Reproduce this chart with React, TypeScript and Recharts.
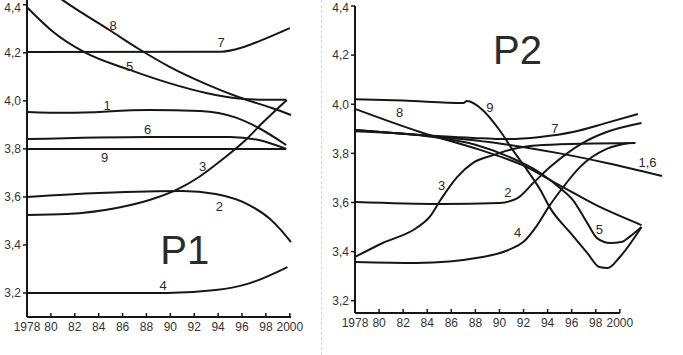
import React from 'react';
import { LineChart, Line, XAxis, YAxis, ReferenceDot, ReferenceLine } from 'recharts';

type Pt = [number, number];

// axis ticks
const yearTicks = [1978, 1980, 1982, 1984, 1986, 1988, 1990, 1992, 1994, 1996, 1998, 2000];
const valueTicks = [3.2, 3.4, 3.6, 3.8, 4.0, 4.2, 4.4];

// P1 series, [year, value]
const p1s1: Pt[] = [[1978, 3.954], [1981.3, 3.95], [1988.2, 3.962], [1992.5, 3.958], [1995.5, 3.93], [1997.4, 3.887], [1999.7, 3.816]];
const p1s2: Pt[] = [[1978, 3.6], [1984, 3.616], [1988, 3.623], [1991, 3.625], [1993.8, 3.612], [1996.6, 3.566], [1998.3, 3.51], [1999.3, 3.46], [2000.1, 3.412]];
const p1s3: Pt[] = [[1978, 3.525], [1981.3, 3.529], [1985.5, 3.554], [1988.25, 3.587], [1990.5, 3.629], [1992.4, 3.683], [1994.3, 3.754], [1996.3, 3.837], [1997.7, 3.908], [1999.75, 4.004]];
const p1s4: Pt[] = [[1978, 3.2], [1989.7, 3.2], [1993.8, 3.212], [1996.6, 3.24], [1999.8, 3.308]];
const p1s5: Pt[] = [[1978, 4.39], [1980.2, 4.287], [1982.8, 4.203], [1986.6, 4.129], [1989.9, 4.074], [1993, 4.033], [1995.75, 4.01], [1997.5, 4.005], [1999.7, 4.005]];
const p1s6: Pt[] = [[1978, 3.841], [1988.2, 3.85], [1995, 3.85], [1997.4, 3.837], [1999.7, 3.8]];
const p1s7: Pt[] = [[1978, 4.203], [1994.3, 4.205], [1996, 4.222], [1997.5, 4.25], [2000, 4.303]];
const p1s8: Pt[] = [[1978, 4.53], [1981.2, 4.412], [1984.9, 4.295], [1987.4, 4.215], [1989.9, 4.143], [1993, 4.07], [1995.75, 4.015], [1998.5, 3.97], [2000.1, 3.941]];
const p1s9: Pt[] = [[1978, 3.8], [1999.7, 3.8]];

// P2 series
const p2s16: Pt[] = [[1978, 3.895], [1985, 3.867], [1990, 3.84], [1993.4, 3.814], [1995, 3.8], [1998.9, 3.761], [2003.5, 3.708]];
const p2s2: Pt[] = [[1978, 3.602], [1985.1, 3.594], [1990, 3.598], [1991.5, 3.618], [1992.8, 3.679], [1994.2, 3.744], [1996.9, 3.842], [1998.9, 3.887], [2001.8, 3.924]];
const p2s3: Pt[] = [[1978, 3.378], [1980.3, 3.435], [1983.1, 3.496], [1984.2, 3.541], [1985.1, 3.61], [1986.5, 3.704], [1987.8, 3.761], [1989.5, 3.793], [1991.5, 3.822], [1993.6, 3.834], [2001.3, 3.842]];
const p2s4: Pt[] = [[1978, 3.358], [1983.1, 3.354], [1988.6, 3.378], [1990.9, 3.41], [1992, 3.44], [1993.1, 3.505], [1994.2, 3.59], [1995.3, 3.663], [1996.7, 3.745], [1998.9, 3.818], [2000.8, 3.842]];
const p2s5: Pt[] = [[1978, 3.89], [1984, 3.87], [1988, 3.835], [1990.6, 3.79], [1993.4, 3.72], [1995, 3.66], [1996.1, 3.61], [1997.3, 3.516], [1998.1, 3.455], [1999.2, 3.435], [2000.2, 3.44], [2000.8, 3.46], [2001.8, 3.5]];
const p2s7: Pt[] = [[1978, 3.895], [1982, 3.88], [1987.8, 3.863], [1990.6, 3.858], [1993.4, 3.867], [1996.1, 3.887], [1998.9, 3.924], [2001.5, 3.96]];
const p2s8: Pt[] = [[1978, 3.981], [1983.4, 3.887], [1988.4, 3.814], [1992, 3.75], [1995, 3.67], [1998, 3.59], [2001.8, 3.508]];
const p2s9: Pt[] = [[1978, 4.02], [1982, 4.015], [1987, 4.005], [1987.3, 4.013], [1988.6, 3.977], [1990, 3.895], [1991.1, 3.814], [1992.3, 3.732], [1993.4, 3.651], [1994.2, 3.578], [1995.9, 3.476], [1997.3, 3.394], [1998.3, 3.337], [1999, 3.333], [2000, 3.378], [2001.8, 3.5]];

// curve labels, [text, year, value]
const p1Labels: [string, number, number][] = [
  ['8', 1985.2, 4.315], ['7', 1994.25, 4.241], ['5', 1986.6, 4.145], ['1', 1984.7, 3.979], ['6', 1988.1, 3.879],
  ['9', 1984.5, 3.766], ['3', 1992.7, 3.725], ['2', 1994.1, 3.562], ['4', 1989.4, 3.233],
];
const p2Labels: [string, number, number][] = [
  ['8', 1981.7, 3.968], ['9', 1989.2, 3.985], ['7', 1994.6, 3.903], ['1,6', 2002.3, 3.761], ['3', 1985.2, 3.671],
  ['2', 1990.7, 3.639], ['4', 1991.5, 3.476], ['5', 1998.3, 3.488],
];

const ink = '#161616';
const font = '"Liberation Sans", Arial, sans-serif';

const toPts = (a: Pt[]) => a.map(([year, v]) => ({ year, v }));
const fmtYear = (y: number) => (y === 1978 || y === 2000 ? String(y) : String(y).slice(2));
const fmtVal = (v: number) => v.toFixed(1).replace('.', ',');

const textShape = (text: string, size: number) => (props: any) => (
  <text x={props.cx} y={props.cy} textAnchor="middle" dominantBaseline="central" fontSize={size} fill="#2b2b2b" fontFamily={font}>
    {text}
  </text>
);

const series = (list: Pt[][]) =>
  list.map((s, i) => (
    <Line key={i} data={toPts(s)} dataKey="v" type="monotone" stroke={ink} strokeWidth={2} dot={false} isAnimationActive={false} />
  ));

const tickStyle = { fill: '#333', fontSize: 12, fontFamily: font };

const App: React.FC = () => {
  return (
    <div style={{ position: 'absolute', left: 0, top: 0, width: 683, height: 355, background: '#fff' }}>
      <div style={{ position: 'absolute', left: 0, top: 0 }}>
        <LineChart width={320} height={355} margin={{ top: 0, right: 29, bottom: 13, left: 0 }}>
          <XAxis dataKey="year" type="number" domain={[1978, 2000]} ticks={yearTicks} interval={0} tickFormatter={fmtYear}
            height={25} tickSize={-4} tickMargin={9} tick={tickStyle}
            axisLine={{ stroke: ink, strokeWidth: 2 }} tickLine={{ stroke: ink, strokeWidth: 1.5 }} />
          <YAxis type="number" domain={[3.1, 4.42]} ticks={valueTicks} allowDataOverflow tickFormatter={fmtVal}
            width={27} tickSize={4} tickMargin={2} tick={tickStyle}
            axisLine={{ stroke: ink, strokeWidth: 2 }} tickLine={{ stroke: ink, strokeWidth: 1.5 }} />
          {series([p1s1, p1s2, p1s3, p1s4, p1s5, p1s6, p1s7, p1s8, p1s9])}
          {p1Labels.map(([t, x, y]) => (
            <ReferenceDot key={t} x={x} y={y} r={4} shape={textShape(t, 13)} />
          ))}
          <ReferenceDot x={1991.2} y={3.379} r={4} shape={textShape('P1', 40)} />
        </LineChart>
      </div>
      <div style={{ position: 'absolute', left: 321, top: 0, height: 355, borderLeft: '1px dashed #d4d4d4' }} />
      <div style={{ position: 'absolute', left: 320, top: 0 }}>
        <LineChart width={363} height={355} margin={{ top: 6, right: 15, bottom: 17, left: 0 }}>
          <XAxis dataKey="year" type="number" domain={[1978, 2004]} ticks={yearTicks} interval={0} tickFormatter={fmtYear}
            height={25} tickSize={-4} tickMargin={9} tick={tickStyle}
            axisLine={false} tickLine={{ stroke: ink, strokeWidth: 1.5 }} />
          <YAxis type="number" domain={[3.15, 4.4]} ticks={valueTicks} allowDataOverflow tickFormatter={fmtVal}
            width={35} tickSize={4} tickMargin={2} tick={tickStyle}
            axisLine={{ stroke: ink, strokeWidth: 2 }} tickLine={{ stroke: ink, strokeWidth: 1.5 }} />
          <ReferenceLine segment={[{ x: 1978, y: 3.15 }, { x: 2000, y: 3.15 }]} stroke={ink} strokeWidth={2} />
          {series([p2s16, p2s2, p2s3, p2s4, p2s5, p2s7, p2s8, p2s9])}
          {p2Labels.map(([t, x, y]) => (
            <ReferenceDot key={t} x={x} y={y} r={4} shape={textShape(t, 13)} />
          ))}
          <ReferenceDot x={1991.5} y={4.22} r={4} shape={textShape('P2', 40)} />
        </LineChart>
      </div>
    </div>
  );
};

export default App;
